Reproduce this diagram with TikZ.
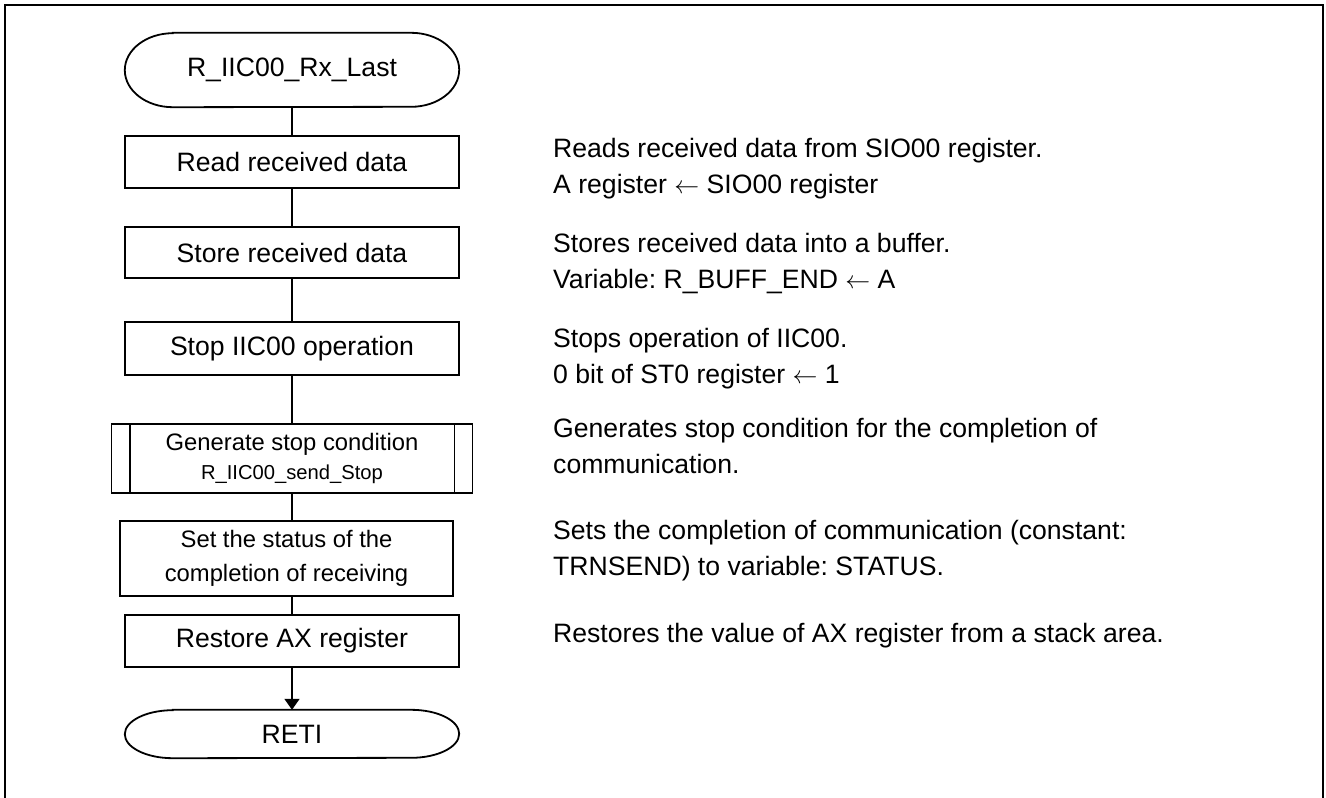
\documentclass[tikz,border=0pt]{standalone}
\usepackage{fontspec}
\setmainfont{Liberation Sans}
\usetikzlibrary{arrows.meta}
\frenchspacing

\tikzset{
  proc/.style={draw, line width=1.8pt, minimum width=334pt, minimum height=52pt,
    inner sep=0pt, align=center, font=\fontsize{26.6}{30}\selectfont},
  term/.style={minimum width=334pt, inner sep=0pt, font=\fontsize{26.6}{30}\selectfont},
  note/.style={anchor=base west, inner sep=0pt, align=left, font=\fontsize{26.6}{35.5}\selectfont},
  link/.style={line width=1.8pt},
}
% terminal outline: straight top and bottom, half ellipses at the ends
\newcommand{\termpath}[3]{%
  \draw[link] ([xshift=#2]#1.north west) -- ([xshift=-#2]#1.north east)
    arc[start angle=90, end angle=-90, x radius=#2, y radius=#3]
    -- ([xshift=#2]#1.south west)
    arc[start angle=270, end angle=90, x radius=#2, y radius=#3] -- cycle;}

\begin{document}
\begin{tikzpicture}[x=1pt,y=-1pt]
        \useasboundingbox (0,0) rectangle (1326,798);
        \draw[line width=2pt] (5,805) -- (5,5) -- (1323,5) -- (1323,805);

        % flow
        \node[term, minimum height=74pt] (start) at (292,70) {R\_IIC00\_Rx\_Last};
        \termpath{start}{48pt}{37pt}
        \node[proc] (read) at (292,162) {Read received data};
        \node[proc, minimum height=51pt] (store) at (292,252.5) {Store received data};
        \node[proc, minimum height=53pt] (stopop) at (292,348.5) {Stop IIC00 operation};
        \node[proc, minimum width=361pt, minimum height=69pt] (gen) at (292,458.5)
          {\fontsize{23.8}{33}\selectfont Generate stop condition\\[-1pt]
           \fontsize{20.2}{33}\selectfont R\_IIC00\_send\_Stop};
        \draw[link] ([xshift=19pt]gen.north west) -- ([xshift=19pt]gen.south west);
        \draw[link] ([xshift=-19pt]gen.north east) -- ([xshift=-19pt]gen.south east);
        \node[proc, minimum width=333pt, minimum height=75pt,
          font=\fontsize{23.8}{34}\selectfont] (setst) at (286.5,558.5)
          {Set the status of the\\completion of receiving};
        \node[proc] (restore) at (292,641) {Restore AX register};
        \node[term, minimum height=48pt] (end) at (292,734) {RETI};
        \termpath{end}{48pt}{24pt}

        \draw[link] (start.south) -- (read.north);
        \draw[link] (read.south) -- (store.north);
        \draw[link] (store.south) -- (stopop.north);
        \draw[link] (stopop.south) -- (gen.north);
        \draw[link] (gen.south) -- (gen.south |- setst.north);
        \draw[link] (restore.north |- setst.south) -- (restore.north);
        \draw[link, -{Triangle[length=11pt,width=15pt]}] (restore.south) -- (end.north);

        % notes
        \node[note] (n1) at (553,193) {Reads received data from SIO00 register.\\A register $\leftarrow$ SIO00 register};
        \node[note] (n2) at (553,288) {Stores received data into a buffer.\\Variable: R\_BUFF\_END $\leftarrow$ A};
        \node[note] (n3) at (553,383) {Stops operation of IIC00.\\0 bit of ST0 register $\leftarrow$ 1};
        \node[note] (n4) at (553,473) {Generates stop condition for the completion of\\communication.};
        \node[note] (n5) at (553,575) {Sets the completion of communication (constant:\\TRNSEND) to variable: STATUS.};
        \node[note] (n6) at (553,642) {Restores the value of AX register from a stack area.};
\end{tikzpicture}
\end{document}
